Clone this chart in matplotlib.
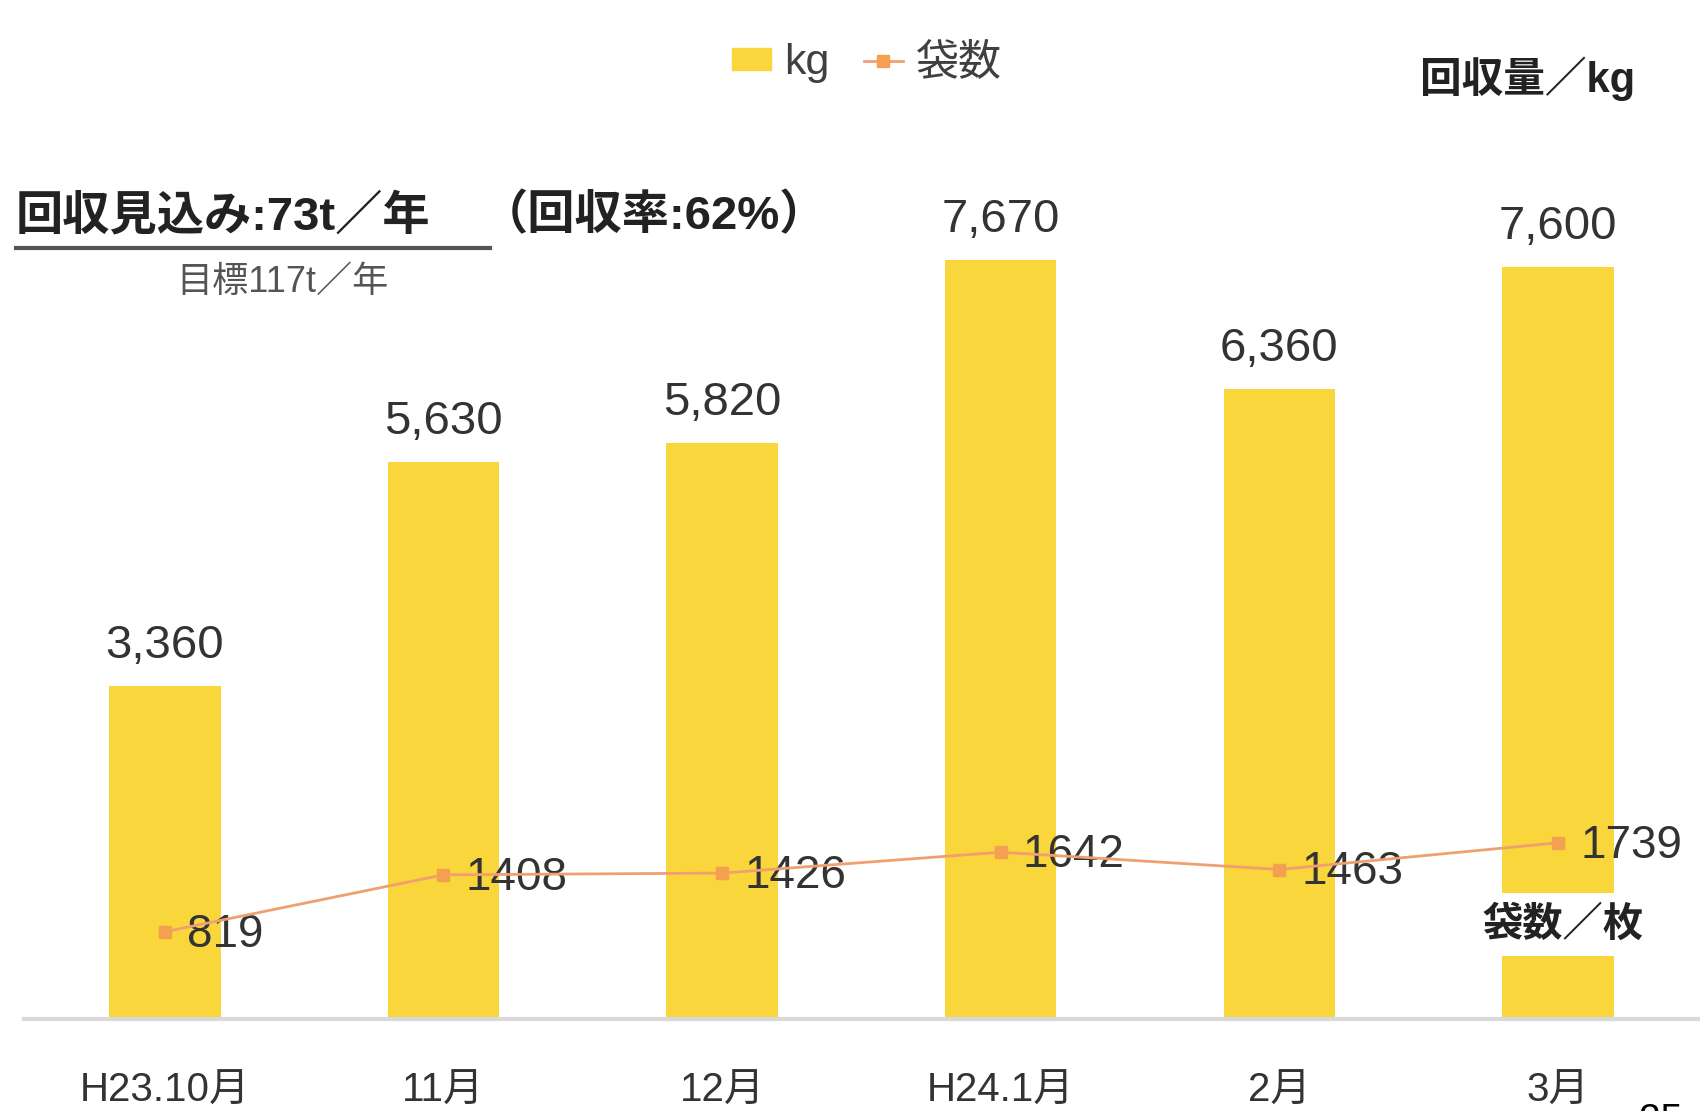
import matplotlib
matplotlib.use('Agg')
import matplotlib.pyplot as plt
from matplotlib.lines import Line2D
from matplotlib.patches import Patch

plt.rcParams['font.family'] = ['Liberation Sans', 'Noto Sans CJK JP', 'DejaVu Sans']

# 月別の回収量(kg)と袋数
months = ['H23.10月', '11月', '12月', 'H24.1月', '2月', '3月']
kg = [3360, 5630, 5820, 7670, 6360, 7600]
bags = [819, 1408, 1426, 1642, 1463, 1739]

bar_color = '#F9D63C'
line_color = '#F0A070'
marker_color = '#F5A050'
text_color = '#333333'

fig = plt.figure(figsize=(17, 11.11), dpi=100)
ax = fig.add_axes([0.014, 0.0828, 0.986, 0.8002])
x = list(range(len(months)))

ax.bar(x, kg, width=0.4, color=bar_color, zorder=2)
for xi, v in zip(x, kg):
    ax.annotate(f'{v:,}', (xi, v), xytext=(0, 13), textcoords='offset points',
                ha='center', va='bottom', fontsize=34, color=text_color)
ax.axhline(0, color='#D9D9D9', lw=3, zorder=3, clip_on=False)
ax.set_xlim(-0.506, 5.51)
ax.set_ylim(0, 8980)
ax.set_yticks([])
ax.set_xticks(x)
ax.set_xticklabels(months, fontsize=29, color=text_color)
ax.tick_params(axis='x', length=0, pad=38)
for s in ax.spines.values():
    s.set_visible(False)

# 袋数は第2軸に折れ線で
ax2 = ax.twinx()
ax2.plot(x, bags, color=line_color, lw=2, marker='s', markersize=8,
         markerfacecolor=marker_color, markeredgecolor=marker_color, zorder=4)
for xi, v in zip(x, bags):
    ax2.annotate(str(v), (xi, v), xytext=(16, -2), textcoords='offset points',
                 ha='left', va='center', fontsize=33, color=text_color)
ax2.set_ylim(-83, 9110)
ax2.set_yticks([])
for s in ax2.spines.values():
    s.set_visible(False)

# 凡例
handles = [Patch(color=bar_color),
           Line2D([], [], color=line_color, lw=2, marker='s', markersize=8,
                  markerfacecolor=marker_color, markeredgecolor=marker_color)]
fig.legend(handles, ['kg', '袋数'], loc='center', bbox_to_anchor=(0.51, 0.943),
           ncol=2, frameon=False, fontsize=31, handlelength=0.9, handleheight=0.4,
           handletextpad=0.3, columnspacing=0.8, labelcolor='#404040')

fig.text(0.962, 0.929, '回収量／kg', ha='right', va='center', fontsize=30,
         fontweight='bold', color='#222222')
fig.text(0.967, 0.168, '袋数／枚', ha='right', va='center', fontsize=29,
         fontweight='bold', color='#222222',
         bbox=dict(facecolor='white', edgecolor='none', pad=9))

# 回収見込み
fig.text(0.0094, 0.805, '回収見込み:73t／年', ha='left', va='center', fontsize=34,
         fontweight='bold', color='#222222')
fig.text(0.283, 0.805, '（回収率:62%）', ha='left', va='center', fontsize=34,
         fontweight='bold', color='#222222')
fig.add_artist(Line2D([0.0094, 0.288], [0.777, 0.777], color='#555555', lw=3))
fig.text(0.104, 0.746, '目標117t／年', ha='left', va='center', fontsize=26,
         color='#555555')

fig.text(0.964, 0.0072, '25', ha='left', va='top', fontsize=28, color='black')

fig.savefig('out.png', dpi=100)
